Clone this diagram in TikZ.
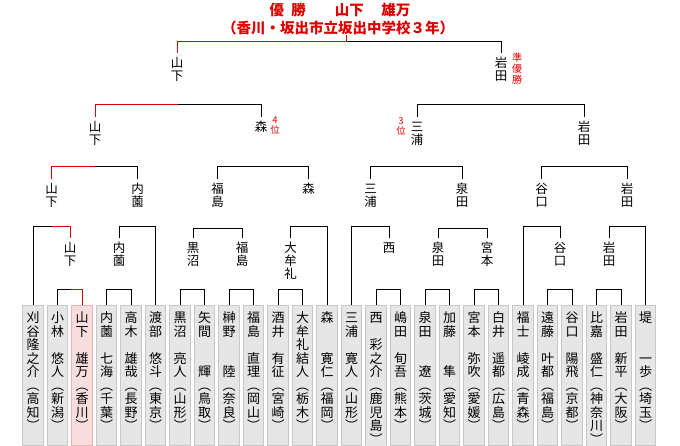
\documentclass[tikz,border=0pt]{standalone}
\usepackage{fontspec}
\usepackage{tikz}
\usetikzlibrary{calc}

\newfontfamily\jp{Noto Sans CJK JP}

\definecolor{winred}{RGB}{221,0,0}
\definecolor{boxfill}{RGB}{230,230,230}
\definecolor{boxline}{RGB}{200,200,200}
\definecolor{champfill}{RGB}{247,221,221}
\definecolor{champline}{RGB}{228,180,180}

% vertical text, one character per row (* leaves a row empty)
\newcommand\tatesep{13.5pt}
\def\tateloop#1{\ifx#1\relax\else
  \hbox to 1.1em{\hss\vrule width 0pt height .85\dimexpr\tatesep\relax depth .15\dimexpr\tatesep\relax
    \ifx#1*\else#1\fi\hss}%
  \expandafter\tateloop\fi}
\newcommand\tate[2][13.5pt]{\vbox{\offinterlineskip\def\tatesep{#1}\expandafter\tateloop#2\relax}}

% one bout: legs up from both sides, joined by a bar
\newcommand\bout[3]{\draw[bar] (#1.north) -- (#1.north |- 0,#3) -| (#2.north);}
\newcommand\wonR[3]{\path ($(#1.north)!.5!(#2.north)$) coordinate (mid);
  \draw[winbar] (mid |- 0,#3) -| (#2.north);}
\newcommand\wonL[3]{\path ($(#1.north)!.5!(#2.north)$) coordinate (mid);
  \draw[winbar] (mid |- 0,#3) -| (#1.north);}

\tikzset{
  player/.style={draw=boxline, fill=boxfill, line width=1pt, anchor=north, inner sep=0pt,
    minimum width=20.5pt, minimum height=140pt, text depth=8.5pt,
    font=\jp\fontsize{13}{13.5}\selectfont},
  champ/.style={player, draw=champline, fill=champfill},
  tall/.style={player, minimum height=153.5pt},
  wname/.style={anchor=north, inner sep=0pt, inner ysep=3.5pt, font=\jp\fontsize{12.5}{13}\selectfont},
  rank/.style={anchor=north, inner sep=0pt, text=winred, font=\jp\fontsize{9.5}{9}\selectfont},
  headline/.style={inner sep=0pt, text=winred, font=\jp\bfseries\fontsize{14.5}{16}\selectfont},
  bar/.style={line width=1pt},
  winbar/.style={bar, draw=winred},
}

\begin{document}
\begin{tikzpicture}[x=1pt, y=-1pt]
  \useasboundingbox (0,0) rectangle (680,446);

  % champion
  \node[headline] (title) at (340,10.5) {優\hspace{.5em}勝\hspace{2em}山下\hspace{1.2em}雄万};
  \node[headline] (school) at (338,28) {（香川・坂出市立坂出中学校３年）};

  % entrants
  \foreach \i/\who/\look in {0/刈谷隆之介︵高知︶/player, 1/小林*悠人︵新潟︶/player,
      2/山下*雄万︵香川︶/champ, 3/内薗*七海︵千葉︶/player, 4/高木*雄哉︵長野︶/player,
      5/渡部*悠斗︵東京︶/player, 6/黒沼*亮人︵山形︶/player, 7/矢間**輝︵鳥取︶/player,
      8/榊野**陸︵奈良︶/player, 9/福島*直理︵岡山︶/player, 10/酒井*有征︵宮崎︶/player,
      11/大牟礼結人︵栃木︶/player, 12/森**寛仁︵福岡︶/player, 13/三浦*寛人︵山形︶/player,
      14/西*彩之介︵鹿児島︶/tall, 15/嶋田*旬吾︵熊本︶/player, 16/泉田**遼︵茨城︶/player,
      17/加藤**隼︵愛知︶/player, 18/宮本*弥吹︵愛媛︶/player, 19/白井*遥都︵広島︶/player,
      20/福士*崚成︵青森︶/player, 21/遠藤*叶都︵福島︶/player, 22/谷口*陽飛︵京都︶/player,
      23/比嘉*盛仁︵神奈川︶/tall, 24/岩田*新平︵大阪︶/player, 25/堤**一歩︵埼玉︶/player} {
    \node[\look] (p\i) at (33+24.5*\i,305) {\tate{\who}};
  }

  % winners, round by round
  \foreach \n/\x/\who in {a/70/山下, b/119/内薗, c/193/黒沼, d/242/福島, e/290.5/大牟礼,
      f/389/西, g/438/泉田, h/487/宮本, i/560/谷口, j/609/岩田}
    \node[wname] (w1\n) at (\x,238) {\tate[13pt]{\who}};
  \foreach \n/\x/\who in {a/51.5/山下, b/137.5/内薗, c/217.5/福島, d/308.5/森,
      e/370.5/三浦, f/462/泉田, g/541.5/谷口, h/627/岩田}
    \node[wname] (w2\n) at (\x,179) {\tate[13pt]{\who}};
  \foreach \n/\x/\who in {a/95/山下, b/261/森, c/417/三浦, d/584/岩田}
    \node[wname] (w3\n) at (\x,117) {\tate[13pt]{\who}};
  \node[wname] (w4a) at (177,53) {\tate[13pt]{山下}};
  \node[wname] (w4b) at (501,53) {\tate[13pt]{岩田}};

  % places
  \node[rank] (fourth) at (275,116) {\tate[9pt]{4位}};
  \node[rank] (third) at (401,117) {\tate[9pt]{3位}};
  \node[rank, font=\jp\fontsize{10}{10.7}\selectfont] (second) at (517,52.5) {\tate[10.7pt]{準優勝}};

  % brackets
  \foreach \l/\r/\y in {p1/p2/290, p3/p4/290, p6/p7/290, p8/p9/290, p10/p11/290,
      p14/p15/290, p16/p17/290, p18/p19/290, p21/p22/290, p23/p24/290,
      p0/w1a/227, w1b/p5/227, w1c/w1d/229, w1e/p12/227, p13/w1f/227,
      w1g/w1h/229, p20/w1i/227, w1j/p25/227,
      w2a/w2b/167, w2c/w2d/167, w2e/w2f/167, w2g/w2h/167,
      w3a/w3b/105, w3c/w3d/105, w4a/w4b/42} {
    \bout{\l}{\r}{\y}
  }

  % path of the champion
  \wonR{p1}{p2}{290}
  \wonR{p0}{w1a}{227}
  \wonL{w2a}{w2b}{167}
  \wonL{w3a}{w3b}{105}
  \coordinate (crown) at (346,42);
  \draw[winbar] (w4a.north) |- (crown) -- (crown |- school.south);
\end{tikzpicture}
\end{document}
